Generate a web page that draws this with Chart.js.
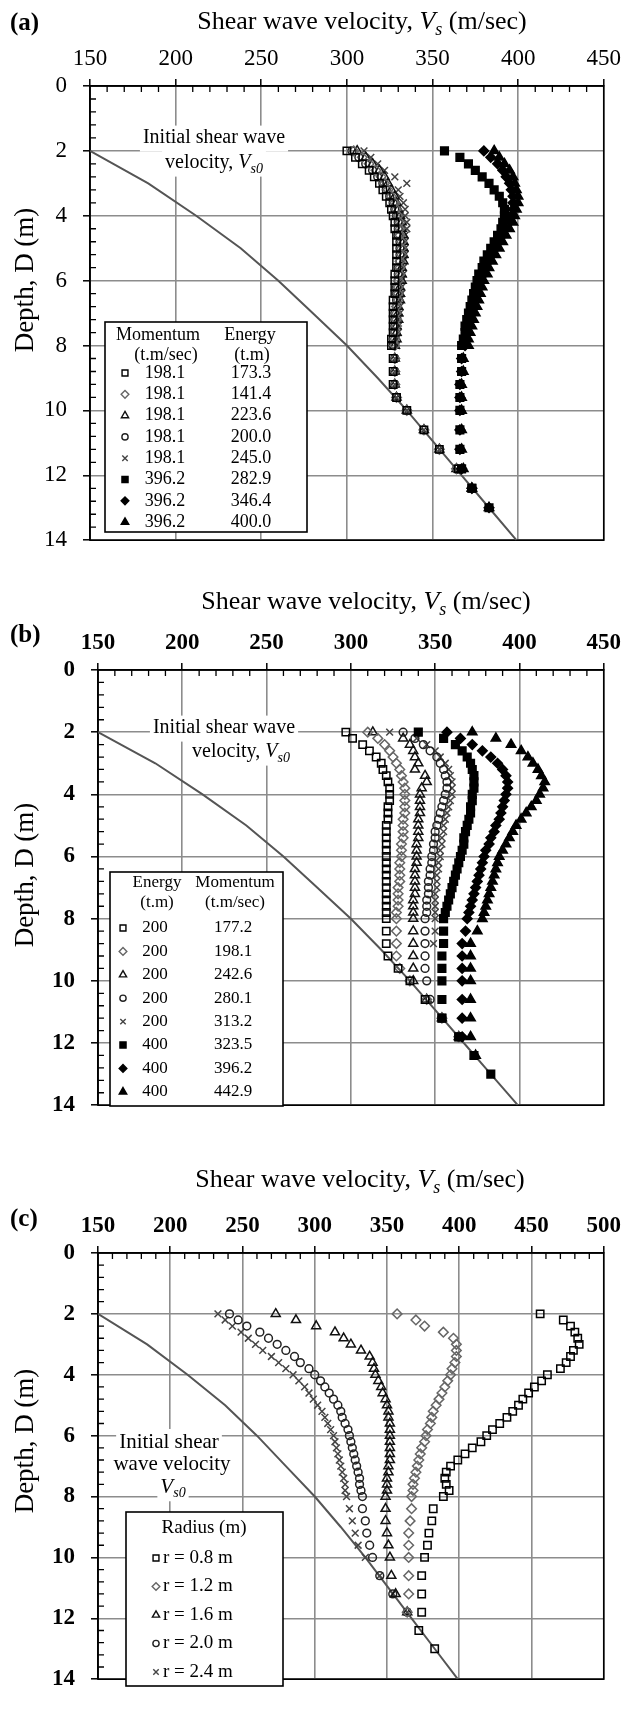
<!DOCTYPE html>
<html>
<head>
<meta charset="utf-8">
<script src="https://cdn.jsdelivr.net/npm/chart.js@4.4.1/dist/chart.umd.min.js"></script>
<style>
  html, body { margin: 0; padding: 0; background: #fff; }
  #wrap { position: relative; width: 627px; height: 1709px; overflow: hidden; }
  canvas { position: absolute; left: 0; }
</style>
</head>
<body>
<div id="wrap">
  <canvas id="chartA" width="627" height="570" style="top:0px"></canvas>
  <canvas id="chartB" width="627" height="565" style="top:570px"></canvas>
  <canvas id="chartC" width="627" height="574" style="top:1135px"></canvas>
</div>
<script>
const SERIF = '"Liberation Serif", "Times New Roman", serif';

// initial shear wave velocity Vs0 (same curve in every panel)
const vs0Depth = [2, 3, 4, 5, 6, 7, 8, 9, 10, 11, 12, 13, 14];
const vs0Vel = [150, 184, 212, 238, 260, 280, 300, 318, 335, 351, 367, 383, 399];

// depths (m) of the computed points
const depthPts = [2.0, 2.2, 2.4, 2.6, 2.8, 3.0, 3.2, 3.4, 3.6, 3.8,
                  4.0, 4.2, 4.4, 4.6, 4.8, 5.0, 5.2, 5.4, 5.6, 5.8,
                  6.0, 6.2, 6.4, 6.6, 6.8, 7.0, 7.2, 7.4, 7.6, 7.8, 8.0,
                  8.4, 8.8, 9.2, 9.6, 10.0, 10.6, 11.2, 11.8, 12.4, 13.0];

// ---- (a) momentum / energy ----
const aMomentum = ['198.1', '198.1', '198.1', '198.1', '198.1', '396.2', '396.2', '396.2'];
const aEnergy = ['173.3', '141.4', '223.6', '200.0', '245.0', '282.9', '346.4', '400.0'];
const aSq = [300, 305, 309, 313, 316, 319, 321, 323, 325, 326,
             327, 328, 328, 329, 329, 329, 329, 329, 329, 328,
             328, 328, 328, 327, 327, 327, 327, 327, 327, 326, 326,
             327, 327, 327, 329, 335, 345, 354, 365, 373, null];
const aDi = [304, 309, 313, 317, 320, 322, 324, 326, 328, 329,
             330, 331, 331, 331, 332, 332, 332, 331, 331, 331,
             330, 330, 330, 330, 329, 329, 329, 329, 328, 328, 328,
             328, 328, 328, 329, 335, 345, 354, 364, 373, null];
const aTr = [306, 311, 315, 319, 322, 324, 326, 328, 329, 330,
             331, 332, 332, 333, 333, 333, 333, 333, 332, 332,
             332, 331, 331, 331, 330, 330, 330, 329, 329, 329, 328,
             328, 328, 328, 329, 335, 345, 354, 364, 373, null];
const aCi = [303, 307, 311, 315, 318, 321, 323, 325, 327, 328,
             329, 330, 330, 330, 331, 331, 331, 331, 330, 330,
             330, 329, 329, 329, 329, 328, 328, 328, 328, 327, 327,
             328, 328, 328, 329, 335, 345, 354, 364, 373, null];
const aCr = [310, 314, 318, 322, 328, 335, 330, 331, 333, 334,
             334, 335, 335, 334, 334, 334, 334, 333, 333, 333,
             332, 332, 332, 331, 331, 331, 330, 330, 330, 329, 329,
             328, 328, 328, 329, 335, 345, 354, 364, 373, null];
const aFSq = [357, 366, 371, 375, 379, 383, 386, 389, 391, 392,
              392, 391, 390, 388, 386, 384, 382, 380, 379, 377,
              376, 375, 374, 373, 372, 371, 370, 369, 369, 368, 367,
              367, 367, 366, 366, 366, 366, 366, 367, 373, 383];
const aFDi = [380, 384, 388, 391, 393, 395, 396, 397, 397, 397,
              396, 395, 393, 391, 389, 387, 385, 383, 381, 380,
              378, 377, 376, 375, 374, 373, 372, 371, 370, 370, 369,
              367, 367, 366, 366, 366, 366, 366, 367, 373, 383];
const aFTr = [386, 389, 392, 395, 397, 398, 399, 400, 400, 399,
              398, 397, 395, 393, 391, 389, 387, 385, 383, 382,
              380, 379, 378, 377, 376, 375, 374, 373, 372, 371, 371,
              368, 368, 367, 367, 367, 367, 367, 368, 373, 383];

// ---- (b) energy / momentum ----
const bEnergy = ['200', '200', '200', '200', '200', '400', '400', '400'];
const bMomentum = ['177.2', '198.1', '242.6', '280.1', '313.2', '323.5', '396.2', '442.9'];
const bSq = [297, 301, 307, 311, 315, 318, 319, 321, 322, 323,
             323, 323, 322, 322, 322, 321, 321, 321, 321, 321,
             321, 321, 321, 321, 321, 321, 321, 321, 321, 321, 321,
             321, 321, 322, 328, 335, 344, 354, 364, null, null];
const bDi = [310, 316, 320, 323, 325, 327, 329, 330, 331, 332,
             332, 332, 332, 332, 331, 331, 331, 331, 330, 330,
             330, 329, 329, 329, 329, 328, 328, 328, 328, 327, 327,
             327, 327, 327, 329, 335, 345, 354, 364, null, null];
const bTr = [313, 331, 335, 337, 338, 340, 338, 344, 345, 342,
             341, 341, 341, 341, 340, 340, 340, 340, 339, 339,
             339, 339, 338, 338, 338, 338, 338, 337, 337, 337, 337,
             337, 337, 337, 337, 337, 345, 354, 364, null, null];
const bCi = [331, 338, 343, 347, 351, 353, 355, 356, 357, 357,
             356, 355, 354, 353, 352, 351, 350, 350, 349, 349,
             348, 348, 347, 347, 346, 346, 346, 345, 345, 345, 344,
             344, 344, 344, 344, 345, 347, 354, 364, null, null];
const bCr = [323, 339, 345, 350, 353, 356, 358, 359, 360, 360,
             360, 359, 358, 357, 356, 355, 355, 354, 354, 353,
             353, 352, 352, 351, 351, 351, 350, 350, 350, 350, 350,
             350, 349, null, null, null, null, 354, 364, null, null];
const bFSq = [340, 355, 362, 366, 369, 371, 372, 373, 373, 373,
              372, 372, 371, 371, 370, 369, 368, 367, 367, 366,
              365, 364, 363, 362, 361, 360, 359, 358, 357, 356, 355,
              355, 355, 354, 354, 354, 354, 354, 364, 373, 383];
const bFDi = [357, 365, 372, 378, 383, 387, 390, 392, 393, 393,
              392, 391, 390, 389, 388, 386, 385, 383, 382, 380,
              379, 378, 377, 376, 375, 374, 373, 372, 371, 370, 369,
              368, 366, 366, 366, 366, 366, 366, 366, null, null];
const bFTr = [372, 386, 395, 401, 405, 408, 411, 413, 415, 414,
              412, 410, 407, 404, 401, 398, 396, 394, 392, 390,
              388, 387, 386, 385, 384, 383, 382, 381, 380, 379, 378,
              375, 371, 371, 371, 371, 371, 371, 371, 374, null];

// ---- (c) radius ----
const cRadius = ['r = 0.8 m', 'r = 1.2 m', 'r = 1.6 m', 'r = 2.0 m', 'r = 2.4 m'];
const cSq = [456, 472, 477, 480, 482, 483, 479, 477, 474, 470,
             461, 457, 452, 448, 444, 441, 437, 433, 428, 423,
             419, 415, 409, 404, 399, 394, 391, 390, 391, 393, 389,
             382, 381, 379, 378, 376, 374, 374, 374, 372, 383];
const cDi = [357, 370, 376, 389, 396, 398, 398, 398, 397, 395,
             394, 392, 390, 388, 386, 384, 382, 381, 380, 378,
             377, 376, 374, 373, 372, 371, 370, 369, 368, 368, 367,
             367, 366, 365, 365, 365, 365, 365, 364, null, null];
const cTr = [273, 287, 301, 314, 320, 325, 332, 338, 340, 341,
             342, 344, 346, 347, 349, 350, 351, 351, 352, 352,
             352, 352, 352, 352, 352, 351, 351, 350, 350, 350, 349,
             349, 349, 350, 351, 352, 353, 356, 364, null, null];
const cCi = [241, 247, 253, 262, 268, 274, 280, 286, 290, 296,
             300, 304, 307, 310, 313, 316, 318, 319, 321, 323,
             324, 325, 326, 327, 328, 329, 330, 331, 331, 332, 333,
             333, 335, 336, 338, 340, 345, 354, 364, null, null];
const cCr = [233, 238, 243, 249, 254, 259, 264, 270, 275, 280,
             285, 289, 293, 296, 299, 302, 305, 307, 309, 311,
             313, 314, 315, 316, 317, 318, 319, 320, 321, 321, 322,
             324, 326, 328, 330, 335, 345, 354, 364, null, null];

// marker looks
const CLEAR = 'rgba(0,0,0,0)';
const MK = {
  sq:  { pointStyle: 'rect', radius: 5.2, fill: CLEAR, stroke: '#000' },
  di:  { pointStyle: 'rectRot', radius: 4.8, fill: CLEAR, stroke: '#666' },
  tr:  { pointStyle: 'triangle', radius: 5.2, fill: CLEAR, stroke: '#111' },
  ci:  { pointStyle: 'circle', radius: 3.9, fill: CLEAR, stroke: '#222' },
  cr:  { pointStyle: 'crossRot', radius: 4.8, fill: CLEAR, stroke: '#444' },
  fsq: { pointStyle: 'rect', radius: 5.4, fill: '#000', stroke: '#000' },
  fdi: { pointStyle: 'rectRot', radius: 4.8, fill: '#000', stroke: '#000' },
  ftr: { pointStyle: 'triangle', radius: 5.4, fill: '#000', stroke: '#000' }
};

function fontFor(kind, size, bold) {
  const s = kind === 's' ? Math.round(size * 0.68) : size;
  return (kind === 'n' ? '' : 'italic ') + (bold ? 'bold ' : '') + s + 'px ' + SERIF;
}
function richWidth(ctx, parts, size, bold) {
  let w = 0;
  parts.forEach(([t, k]) => { ctx.font = fontFor(k, size, bold); w += ctx.measureText(t).width; });
  return w;
}
function drawRich(ctx, parts, cx, cy, size, bold) {
  let x = cx - richWidth(ctx, parts, size, bold) / 2;
  ctx.textAlign = 'left';
  ctx.textBaseline = 'middle';
  parts.forEach(([t, k]) => {
    ctx.font = fontFor(k, size, bold);
    ctx.fillText(t, x, k === 's' ? cy + size * 0.3 : cy);
    x += ctx.measureText(t).width;
  });
}
function mark(ctx, st, x, y, r) {
  ctx.fillStyle = st.fill;
  ctx.strokeStyle = st.stroke;
  ctx.lineWidth = 1.4;
  Chart.helpers.drawPoint(ctx, { pointStyle: st.pointStyle, radius: r, borderWidth: 1.4, rotation: 0 }, x, y);
}

const axisTitle = [['Shear wave velocity, ', 'n'], ['V', 'i'], ['s', 's'], [' (m/sec)', 'n']];

// page decorations for each panel, keyed by canvas id
const specs = {
  chartA: {
    letter: '(a)', letterPos: [10, 24], titlePos: [362, 22], depthPos: [26, 280],
    noteSize: 20,
    notes: [
      { parts: [['Initial shear wave', 'n']], x: 214, y: 138 },
      { parts: [['velocity, ', 'n'], ['V', 'i'], ['s0', 's']], x: 214, y: 163 }
    ],
    legend: {
      box: [105, 322, 202, 210], font: 18,
      heads: [['Momentum', 158, 335], ['(t.m/sec)', 166, 355], ['Energy', 250, 335], ['(t.m)', 252, 355]],
      y0: 373, dy: 21.3, mx: 125,
      cols: [{ x: 165, align: 'center', labels: aMomentum }, { x: 251, align: 'center', labels: aEnergy }],
      styles: [MK.sq, MK.di, MK.tr, MK.ci, MK.cr, MK.fsq, MK.fdi, MK.ftr]
    }
  },
  chartB: {
    letter: '(b)', letterPos: [10, 66], titlePos: [366, 32], depthPos: [26, 305],
    noteSize: 20,
    notes: [
      { parts: [['Initial shear wave', 'n']], x: 224, y: 158 },
      { parts: [['velocity, ', 'n'], ['V', 'i'], ['s0', 's']], x: 241, y: 182 }
    ],
    legend: {
      box: [110, 302, 173, 234], font: 17,
      heads: [['Energy', 157, 313], ['Momentum', 235, 313], ['(t.m)', 157, 333], ['(t.m/sec)', 235, 333]],
      y0: 358, dy: 23.4, mx: 123,
      cols: [{ x: 155, align: 'center', labels: bEnergy }, { x: 233, align: 'center', labels: bMomentum }],
      styles: [MK.sq, MK.di, MK.tr, MK.ci, MK.cr, MK.fsq, MK.fdi, MK.ftr]
    }
  },
  chartC: {
    letter: '(c)', letterPos: [10, 85], titlePos: [360, 45], depthPos: [26, 306],
    noteSize: 21,
    notes: [
      { parts: [['Initial shear', 'n']], x: 169, y: 307 },
      { parts: [['wave velocity', 'n']], x: 172, y: 329 },
      { parts: [['V', 'i'], ['s0', 's']], x: 173, y: 352 }
    ],
    legend: {
      box: [126, 377, 157, 174], font: 19,
      heads: [['Radius (m)', 204, 393]],
      y0: 423, dy: 28.5, mx: 156,
      cols: [{ x: 163, align: 'left', labels: cRadius }],
      styles: [MK.sq, MK.di, MK.tr, MK.ci, MK.cr]
    }
  }
};

const decor = {
  id: 'decor',
  beforeDatasetsDraw(chart) {
    const sp = specs[chart.canvas.id];
    const ctx = chart.ctx, a = chart.chartArea;
    const xs = chart.scales.x, ys = chart.scales.y;
    ctx.save();
    // minor ticks inside the frame
    ctx.strokeStyle = '#000';
    ctx.lineWidth = 1.3;
    ctx.beginPath();
    for (let v = xs.min + 10; v < xs.max; v += 10) {
      if (v % 50 === 0) continue;
      const px = xs.getPixelForValue(v);
      ctx.moveTo(px, a.top);
      ctx.lineTo(px, a.top + 6);
    }
    for (let k = 1; k < 35; k++) {
      if (k % 5 === 0) continue;
      const py = ys.getPixelForValue(k * 0.4);
      ctx.moveTo(a.left, py);
      ctx.lineTo(a.left + 6, py);
    }
    ctx.stroke();
    ctx.lineWidth = 1.6;
    ctx.strokeRect(a.left, a.top, a.width, a.height);
    // Vs0 label on white
    sp.notes.forEach(n => {
      const w = richWidth(ctx, n.parts, sp.noteSize, false);
      ctx.fillStyle = '#fff';
      ctx.fillRect(n.x - w / 2 - 3, n.y - sp.noteSize * 0.62, w + 6, sp.noteSize * 1.3);
    });
    ctx.fillStyle = '#000';
    sp.notes.forEach(n => drawRich(ctx, n.parts, n.x, n.y, sp.noteSize, false));
    ctx.restore();
  },
  afterDatasetsDraw(chart) {
    const lg = specs[chart.canvas.id].legend;
    const ctx = chart.ctx;
    ctx.save();
    ctx.fillStyle = '#fff';
    ctx.fillRect(...lg.box);
    ctx.strokeStyle = '#000';
    ctx.lineWidth = 1.6;
    ctx.strokeRect(...lg.box);
    ctx.fillStyle = '#000';
    ctx.textBaseline = 'middle';
    ctx.textAlign = 'center';
    ctx.font = lg.font + 'px ' + SERIF;
    lg.heads.forEach(([t, x, y]) => ctx.fillText(t, x, y));
    lg.styles.forEach((st, i) => {
      const y = lg.y0 + i * lg.dy;
      mark(ctx, st, lg.mx, y, st.radius * 0.8);
      ctx.fillStyle = '#000';
      ctx.font = lg.font + 'px ' + SERIF;
      lg.cols.forEach(c => {
        ctx.textAlign = c.align;
        ctx.fillText(c.labels[i], c.x, y);
      });
    });
    ctx.restore();
  },
  afterDraw(chart) {
    const sp = specs[chart.canvas.id];
    const ctx = chart.ctx;
    ctx.save();
    ctx.fillStyle = '#000';
    drawRich(ctx, axisTitle, sp.titlePos[0], sp.titlePos[1], 26, false);
    ctx.font = 'bold 25px ' + SERIF;
    ctx.textAlign = 'left';
    ctx.textBaseline = 'middle';
    ctx.fillText(sp.letter, sp.letterPos[0], sp.letterPos[1]);
    ctx.translate(sp.depthPos[0], sp.depthPos[1]);
    ctx.rotate(-Math.PI / 2);
    ctx.textAlign = 'center';
    ctx.font = '27px ' + SERIF;
    ctx.fillText('Depth, D (m)', 0, 0);
    ctx.restore();
  }
};

function points(vals) {
  const out = [];
  vals.forEach((v, i) => { if (v !== null) out.push({ x: v, y: depthPts[i] }); });
  return out;
}

function series(vals, st) {
  return {
    data: points(vals),
    showLine: false,
    pointStyle: st.pointStyle,
    pointRadius: st.radius,
    pointBackgroundColor: st.fill,
    pointBorderColor: st.stroke,
    pointBorderWidth: 1.5
  };
}

function vs0Line() {
  return {
    data: vs0Depth.map((d, i) => ({ x: vs0Vel[i], y: d })),
    showLine: true,
    borderColor: '#555',
    borderWidth: 2,
    pointRadius: 0
  };
}

function makePanel(id, sets, xMax, bold, yW, xH, pad) {
  const tickFont = { family: SERIF, size: 23, weight: bold ? 'bold' : 'normal' };
  const grid = { color: '#8c8c8c', lineWidth: 1.6, tickColor: '#000', tickLength: 7, tickWidth: 1.5 };
  new Chart(document.getElementById(id), {
    type: 'scatter',
    data: { datasets: sets.concat([vs0Line()]) },
    options: {
      responsive: false,
      animation: false,
      devicePixelRatio: 1,
      layout: { padding: pad },
      plugins: { legend: { display: false }, tooltip: { enabled: false } },
      scales: {
        x: {
          type: 'linear', position: 'top', min: 150, max: xMax,
          ticks: { stepSize: 50, font: tickFont, color: '#000', padding: 6, maxRotation: 0, autoSkip: false },
          grid: grid,
          border: { color: '#000', width: 1.6 },
          afterFit(s) { s.height = xH; }
        },
        y: {
          type: 'linear', reverse: true, min: 0, max: 14,
          ticks: { stepSize: 2, font: tickFont, color: '#000', padding: 16, autoSkip: false },
          grid: grid,
          border: { color: '#000', width: 1.6 },
          afterFit(s) { s.width = yW; }
        }
      }
    },
    plugins: [decor]
  });
}

makePanel('chartA', [
  series(aFSq, MK.fsq), series(aFDi, MK.fdi), series(aFTr, MK.ftr),
  series(aSq, MK.sq), series(aDi, MK.di), series(aTr, MK.tr), series(aCi, MK.ci), series(aCr, MK.cr)
], 450, false, 90, 86, { left: 0, top: 0, right: 21, bottom: 27 });

makePanel('chartB', [
  series(bFSq, MK.fsq), series(bFDi, MK.fdi), series(bFTr, MK.ftr),
  series(bSq, MK.sq), series(bDi, MK.di), series(bTr, MK.tr), series(bCi, MK.ci), series(bCr, MK.cr)
], 450, true, 98, 100, { left: 0, top: 0, right: 23, bottom: 22 });

makePanel('chartC', [
  series(cSq, MK.sq), series(cDi, MK.di), series(cTr, MK.tr), series(cCi, MK.ci), series(cCr, MK.cr)
], 500, true, 98, 118, { left: 0, top: 0, right: 22, bottom: 9 });
</script>
</body>
</html>
